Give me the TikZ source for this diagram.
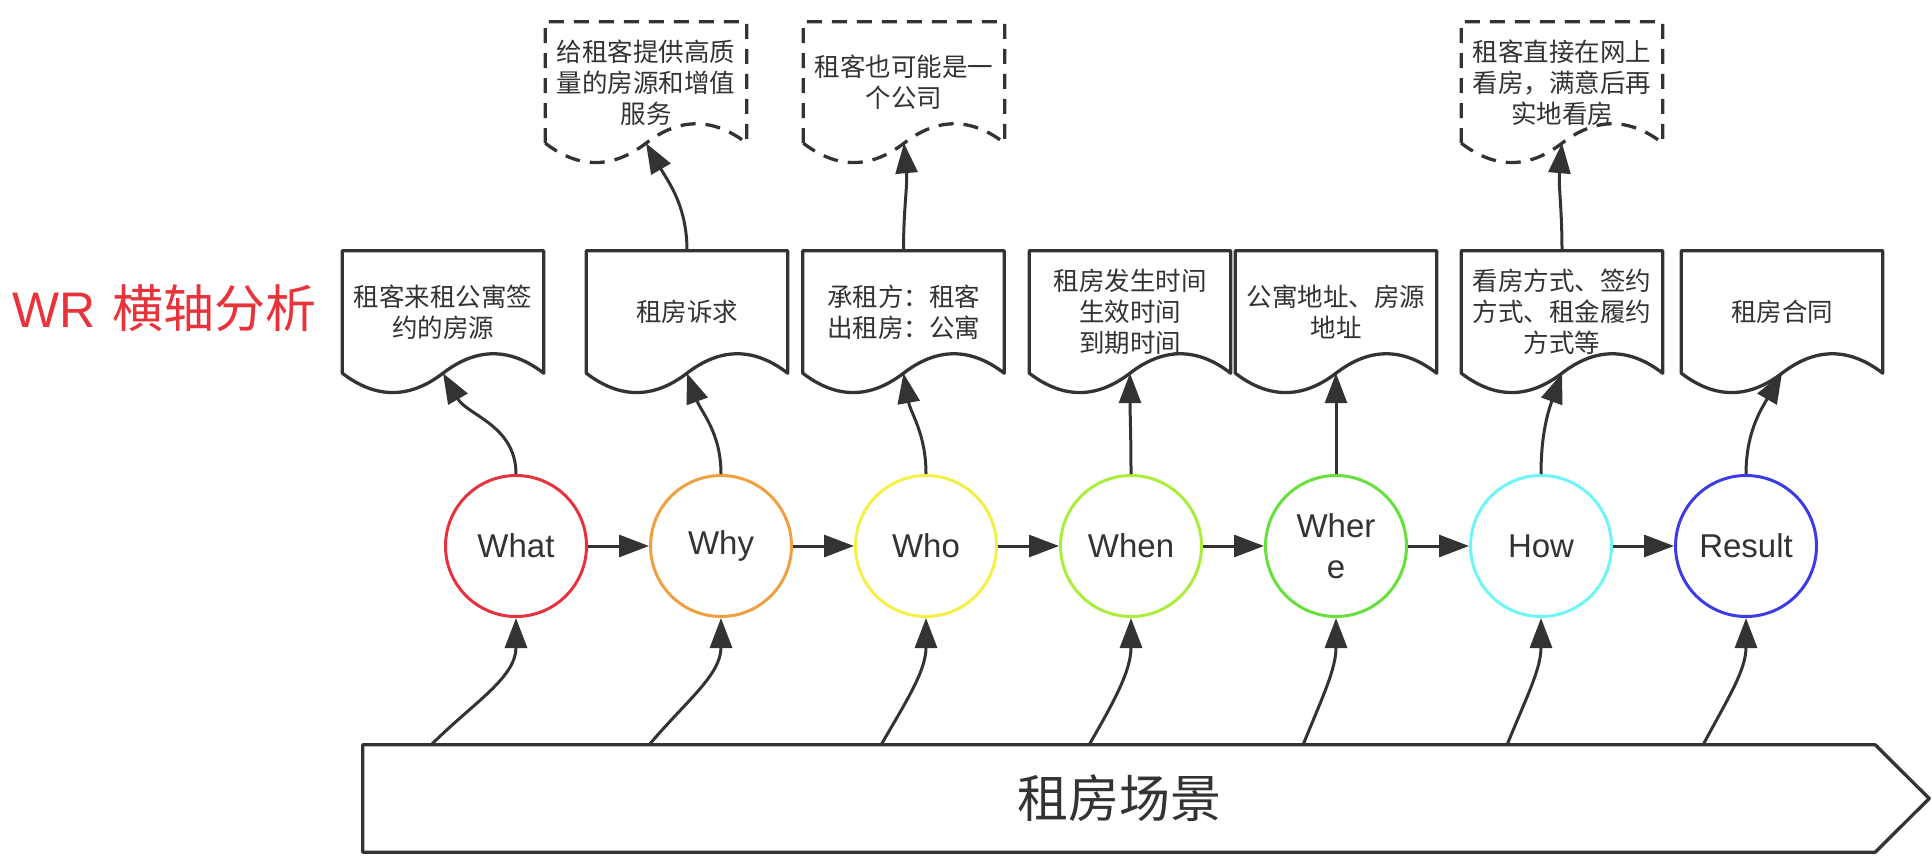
\documentclass[tikz,border=0pt]{standalone}
\usepackage{fontspec}
\setmainfont{Noto Sans CJK SC}
\newfontfamily\latf{Liberation Sans}
\usetikzlibrary{arrows.meta,calc}
\definecolor{lc}{HTML}{333333}
\definecolor{tred}{HTML}{E8333B}
\definecolor{cWhat}{HTML}{E6323C}
\definecolor{cWhy}{HTML}{F0A040}
\definecolor{cWho}{HTML}{F5F046}
\definecolor{cWhen}{HTML}{AAEE3C}
\definecolor{cWhere}{HTML}{66E03C}
\definecolor{cHow}{HTML}{6EF5F5}
\definecolor{cResult}{HTML}{3C3CE6}
\newcommand\docoutline[2]{%
  \draw[#2] (#1.south west) -- (#1.north west) -- (#1.north east) -- (#1.south east)
    .. controls ($(#1.south east)!1/6!(#1.south west)+(0,-25.9)$) and ($(#1.south east)!1/3!(#1.south west)+(0,-25.9)$) .. (#1.south)
    .. controls ($(#1.south west)!1/3!(#1.south east)+(0,25.8)$) and ($(#1.south west)!1/6!(#1.south east)+(0,25.8)$) .. (#1.south west) -- cycle;}
\begin{document}
\begin{tikzpicture}[x=1pt,y=-1pt,
  docbox/.style={minimum width=201pt, minimum height=122pt, inner sep=0pt, align=center, text=lc, font=\fontsize{25.5}{31}\selectfont},
  docline/.style={draw=lc, line width=3.3pt, line join=round},
  noteline/.style={draw=lc, line width=3.3pt, dash pattern=on 15pt off 10pt},
  circ/.style={circle, draw=#1, fill=white, line width=3pt, minimum size=141pt, inner sep=0pt, text=lc, font=\latf\fontsize{33}{41}\selectfont, align=center},
  arr/.style={draw=lc, line width=3pt, -{Triangle[length=30pt,width=22pt]}},
]
\useasboundingbox (0,0) rectangle (1932,864);
\fill[white] (0,0) rectangle (1932,864);

% title
\node[anchor=base west, inner sep=0pt, text=tred, font=\fontsize{51}{60}\selectfont] (title) at (12,327) {{\latf\fontsize{50}{60}\selectfont WR}\hspace{17pt}横轴分析};

% scene arrow
\node[minimum width=1512pt, minimum height=107pt, inner sep=0pt, text=lc, font=\fontsize{51}{60}\selectfont] (scene) at (1119,798.5) {租房场景};
\draw[docline] (scene.north west) -- (scene.north east) -- ($(scene.east)+(54,0)$) -- (scene.south east) -- (scene.south west) -- cycle;

% circles
\node[circ=cWhat] (c1) at (516,546) {What};
\node[circ=cWhy] (c2) at (721,546) {Why};
\node[circ=cWho] (c3) at (926,546) {Who};
\node[circ=cWhen] (c4) at (1131,546) {When};
\node[circ=cWhere] (c5) at (1336,546) {Wher\\e};
\node[circ=cHow] (c6) at (1541,546) {How};
\node[circ=cResult] (c7) at (1746,546) {Result};

\foreach \a/\b in {c1/c2,c2/c3,c3/c4,c4/c5,c5/c6,c6/c7}
  \draw[arr] (\a) -- (\b);

% documents
\node[docbox] (d1) at (443,312) {租客来租公寓签\\约的房源};
\node[docbox] (d2) at (687,312) {租房诉求};
\node[docbox] (d3) at (903.5,312) {承租方：租客\\出租房：公寓};
\node[docbox] (d4) at (1130,312) {租房发生时间\\生效时间\\到期时间};
\node[docbox] (d5) at (1336,312) {公寓地址、房源\\地址};
\node[docbox] (d6) at (1562,312) {看房方式、签约\\方式、租金履约\\方式等};
\node[docbox] (d7) at (1782,312) {租房合同};
\foreach \n in {d1,d2,d3,d4,d5,d6,d7} \docoutline{\n}{docline};

\node[docbox, minimum height=121pt] (t2) at (646,82.5) {给租客提供高质\\量的房源和增值\\服务};
\node[docbox, minimum height=121pt] (t3) at (904,82.5) {租客也可能是一\\个公司};
\node[docbox, minimum height=121pt] (t6) at (1562,82.5) {租客直接在网上\\看房，满意后再\\实地看房};
\foreach \n in {t2,t3,t6} \docoutline{\n}{noteline};

% scene -> circles
\coordinate (b1) at (431,745);
\coordinate (b2) at (649,745);
\coordinate (b3) at (881,745);
\coordinate (b4) at (1089,745);
\coordinate (b5) at (1303,745);
\coordinate (b6) at (1507,745);
\coordinate (b7) at (1703,745);
\draw[arr] (b1) to[out=45,in=-90] (c1.south);
\draw[arr] (b2) to[out=50,in=-90] (c2.south);
\draw[arr] (b3) to[out=60,in=-90] (c3.south);
\draw[arr] (b4) to[out=60,in=-90] (c4.south);
\draw[arr] (b5) to[out=68,in=-90] (c5.south);
\draw[arr] (b6) to[out=68,in=-90] (c6.south);
\draw[arr] (b7) to[out=62,in=-90] (c7.south);

% circles -> documents
\draw[arr] (c1.north) to[out=90,in=-60] (d1.south);
\draw[arr] (c2.north) to[out=90,in=-70] (d2.south);
\draw[arr] (c3.north) to[out=90,in=-80] (d3.south);
\draw[arr] (c4.north) to[out=90,in=-90] (d4.south);
\draw[arr] (c5.north) to[out=90,in=-90] (d5.south);
\draw[arr] (c6.north) to[out=90,in=-110] (d6.south);
\draw[arr] (c7.north) to[out=90,in=-120] (d7.south);

% documents -> notes
\draw[arr] (d2.north) to[out=90,in=-60] (t2.south);
\draw[arr] (d3.north) to[out=90,in=-85] (t3.south);
\draw[arr] (d6.north) to[out=90,in=-95] (t6.south);
\end{tikzpicture}
\end{document}
